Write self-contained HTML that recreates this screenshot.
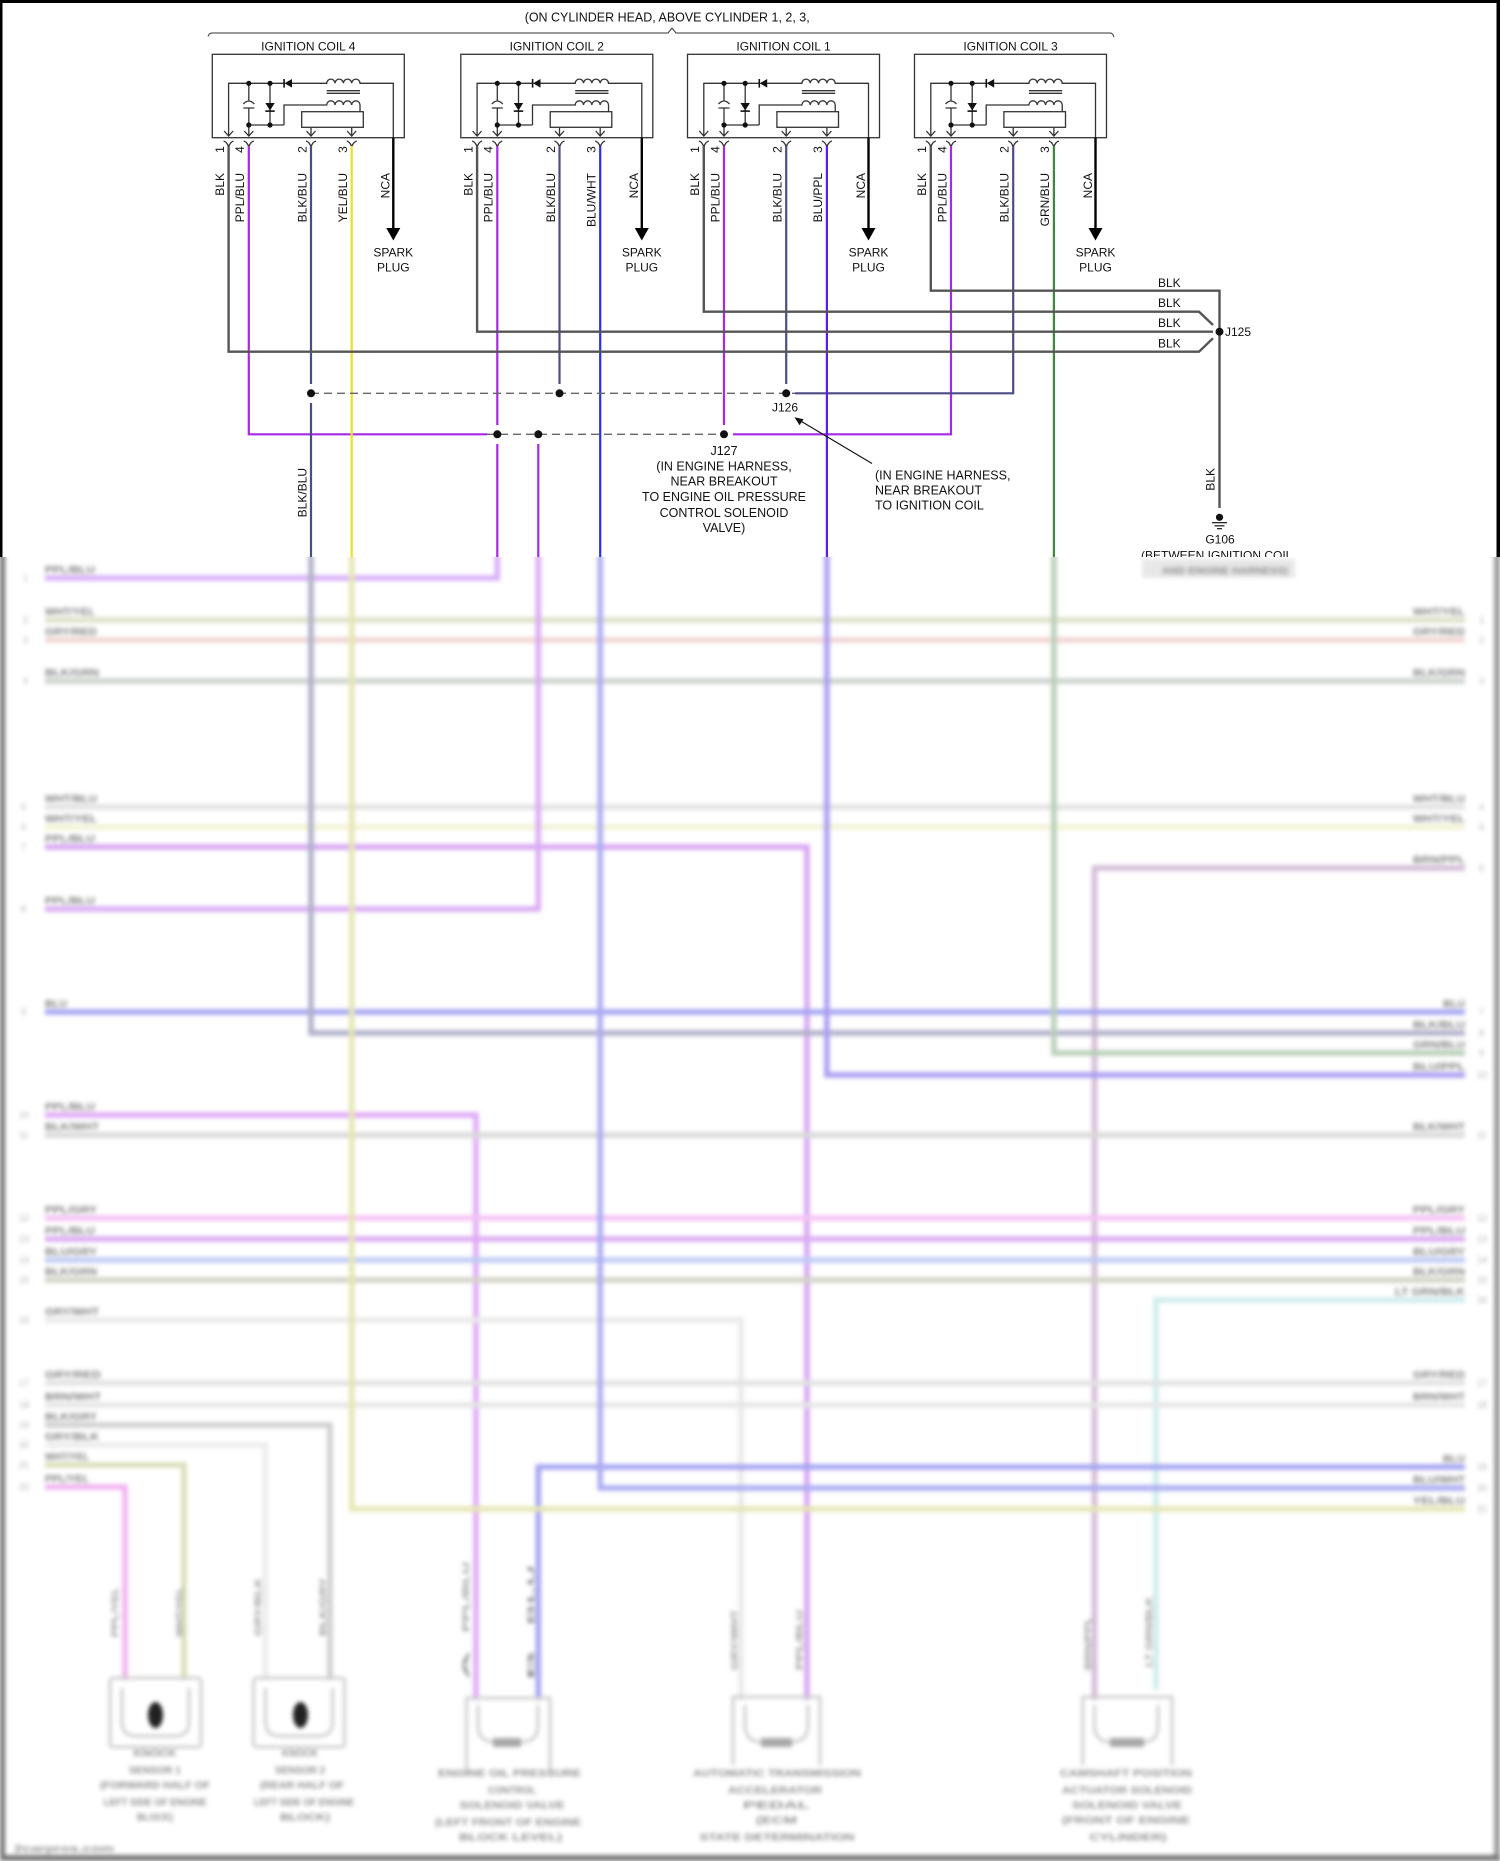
<!DOCTYPE html>
<html><head><meta charset="utf-8">
<style>
html,body{margin:0;padding:0;background:#fff;}
#root{position:relative;width:1500px;height:1861px;overflow:hidden;background:#fff;}
#bl{position:absolute;left:0;top:557px;width:1500px;height:1304px;overflow:hidden;background:#fff;}
#blsvg{position:absolute;left:0;top:-557px;filter:blur(2.2px);}
.lb{font-family:"Liberation Sans",Arial,sans-serif;font-weight:bold;font-size:10.5px;fill:#7c7c7c;}
.rb{font-family:"Liberation Sans",Arial,sans-serif;font-weight:bold;font-size:10.5px;fill:#7c7c7c;}
.pn{font-family:"Liberation Sans",Arial,sans-serif;font-size:9px;fill:#b0b0b0;}
.ct{font-family:"Liberation Sans",Arial,sans-serif;font-weight:bold;font-size:10.5px;fill:#8e8e8e;}
.lr{font-family:"Liberation Sans",Arial,sans-serif;font-weight:bold;font-size:9.5px;fill:#959595;}
</style></head>
<body><div id="root">

<svg width="1500" height="1861" style="position:absolute;left:0;top:0" xmlns="http://www.w3.org/2000/svg">
<rect x="0" y="0" width="1500" height="3" fill="#000"/>
<rect x="0" y="0" width="2.5" height="560" fill="#000"/>
<rect x="1496.5" y="0" width="3.5" height="560" fill="#000"/>

<path d="M208,36.5 Q209,33 212,33 L668,33 L672,28.2 L676,33 L1110,33 Q1113,33 1114,37" fill="none" stroke="#333" stroke-width="1"/>

<g font-family="'Liberation Sans', Arial, sans-serif" font-size="12" fill="#111">
<text x="524.7" y="21.3" font-size="12.5" textLength="285" lengthAdjust="spacingAndGlyphs">(ON CYLINDER HEAD, ABOVE CYLINDER 1, 2, 3,</text>
<text x="308.3" y="50.3" text-anchor="middle">IGNITION COIL 4</text>
<text x="556.8" y="50.3" text-anchor="middle">IGNITION COIL 2</text>
<text x="783.5" y="50.3" text-anchor="middle">IGNITION COIL 1</text>
<text x="1010.5" y="50.3" text-anchor="middle">IGNITION COIL 3</text>
</g>

<g transform="translate(212.3,0)">
 <g fill="none" stroke="#333" stroke-width="1.3">
  <rect x="0" y="54.3" width="192" height="83.4"/>
  <path d="M16.3,136 V83.3 H71.7 M79.7,83.3 H114.4 a4.16,4.16 0 0 1 8.33,0 a4.16,4.16 0 0 1 8.33,0 a4.16,4.16 0 0 1 8.33,0 a4.16,4.16 0 0 1 8.33,0 H181 V137.7"/>
  <path d="M114.4,90.7 H147.7 M114.4,93.3 H147.7"/>
  <path d="M71.7,125 V105 H114.4 a4.16,4.16 0 0 1 8.33,0 a4.16,4.16 0 0 1 8.33,0 a4.16,4.16 0 0 1 8.33,0 a4.16,4.16 0 0 1 8.33,0 V111.7"/>
  <path d="M36.5,125 H71.7"/>
  <rect x="89.4" y="111.7" width="61.6" height="15.6"/>
  <path d="M36.5,83.3 V101 M31,104 Q36.5,98 42,104 M31,108 H42 M36.5,108 V136"/>
  <path d="M57.7,83.3 V125"/>
  <path d="M98.7,127.3 V136 M139.4,127.3 V136"/>
  <path d="M11.8,131 L16.3,136 L20.8,131 M32,131 L36.5,136 L41,131 M94.2,131 L98.7,136 L103.2,131 M134.9,131 L139.4,136 L143.9,131"/>
  <path d="M11.3,141 Q14.8,142 16.3,147 Q17.8,142 21.3,141 M31.5,141 Q35,142 36.5,147 Q38,142 41.5,141 M93.7,141 Q97.2,142 98.7,147 Q100.2,142 103.7,141 M134.4,141 Q137.9,142 139.4,147 Q140.9,142 144.4,141"/>
 </g>
 <g fill="#111">
  <path d="M79.7,79 L79.7,87.6 L72.2,83.3 Z"/><rect x="71" y="79" width="1.6" height="8.6"/>
  <path d="M53,103 L62.4,103 L57.7,110.5 Z"/><rect x="53" y="110.3" width="9.4" height="1.6"/>
  <circle cx="36.5" cy="83.3" r="2.6"/><circle cx="57.7" cy="83.3" r="2.6"/>
  <circle cx="36.5" cy="125" r="2.6"/><circle cx="57.7" cy="125" r="2.6"/>
 </g>
 <path d="M181,137.7 V229" stroke="#000" stroke-width="2.4" fill="none"/>
 <path d="M174,228 L188,228 L181,240.5 Z" fill="#000"/>
</g>

<g transform="translate(460.8,0)">
 <g fill="none" stroke="#333" stroke-width="1.3">
  <rect x="0" y="54.3" width="192" height="83.4"/>
  <path d="M16.3,136 V83.3 H71.7 M79.7,83.3 H114.4 a4.16,4.16 0 0 1 8.33,0 a4.16,4.16 0 0 1 8.33,0 a4.16,4.16 0 0 1 8.33,0 a4.16,4.16 0 0 1 8.33,0 H181 V137.7"/>
  <path d="M114.4,90.7 H147.7 M114.4,93.3 H147.7"/>
  <path d="M71.7,125 V105 H114.4 a4.16,4.16 0 0 1 8.33,0 a4.16,4.16 0 0 1 8.33,0 a4.16,4.16 0 0 1 8.33,0 a4.16,4.16 0 0 1 8.33,0 V111.7"/>
  <path d="M36.5,125 H71.7"/>
  <rect x="89.4" y="111.7" width="61.6" height="15.6"/>
  <path d="M36.5,83.3 V101 M31,104 Q36.5,98 42,104 M31,108 H42 M36.5,108 V136"/>
  <path d="M57.7,83.3 V125"/>
  <path d="M98.7,127.3 V136 M139.4,127.3 V136"/>
  <path d="M11.8,131 L16.3,136 L20.8,131 M32,131 L36.5,136 L41,131 M94.2,131 L98.7,136 L103.2,131 M134.9,131 L139.4,136 L143.9,131"/>
  <path d="M11.3,141 Q14.8,142 16.3,147 Q17.8,142 21.3,141 M31.5,141 Q35,142 36.5,147 Q38,142 41.5,141 M93.7,141 Q97.2,142 98.7,147 Q100.2,142 103.7,141 M134.4,141 Q137.9,142 139.4,147 Q140.9,142 144.4,141"/>
 </g>
 <g fill="#111">
  <path d="M79.7,79 L79.7,87.6 L72.2,83.3 Z"/><rect x="71" y="79" width="1.6" height="8.6"/>
  <path d="M53,103 L62.4,103 L57.7,110.5 Z"/><rect x="53" y="110.3" width="9.4" height="1.6"/>
  <circle cx="36.5" cy="83.3" r="2.6"/><circle cx="57.7" cy="83.3" r="2.6"/>
  <circle cx="36.5" cy="125" r="2.6"/><circle cx="57.7" cy="125" r="2.6"/>
 </g>
 <path d="M181,137.7 V229" stroke="#000" stroke-width="2.4" fill="none"/>
 <path d="M174,228 L188,228 L181,240.5 Z" fill="#000"/>
</g>

<g transform="translate(687.5,0)">
 <g fill="none" stroke="#333" stroke-width="1.3">
  <rect x="0" y="54.3" width="192" height="83.4"/>
  <path d="M16.3,136 V83.3 H71.7 M79.7,83.3 H114.4 a4.16,4.16 0 0 1 8.33,0 a4.16,4.16 0 0 1 8.33,0 a4.16,4.16 0 0 1 8.33,0 a4.16,4.16 0 0 1 8.33,0 H181 V137.7"/>
  <path d="M114.4,90.7 H147.7 M114.4,93.3 H147.7"/>
  <path d="M71.7,125 V105 H114.4 a4.16,4.16 0 0 1 8.33,0 a4.16,4.16 0 0 1 8.33,0 a4.16,4.16 0 0 1 8.33,0 a4.16,4.16 0 0 1 8.33,0 V111.7"/>
  <path d="M36.5,125 H71.7"/>
  <rect x="89.4" y="111.7" width="61.6" height="15.6"/>
  <path d="M36.5,83.3 V101 M31,104 Q36.5,98 42,104 M31,108 H42 M36.5,108 V136"/>
  <path d="M57.7,83.3 V125"/>
  <path d="M98.7,127.3 V136 M139.4,127.3 V136"/>
  <path d="M11.8,131 L16.3,136 L20.8,131 M32,131 L36.5,136 L41,131 M94.2,131 L98.7,136 L103.2,131 M134.9,131 L139.4,136 L143.9,131"/>
  <path d="M11.3,141 Q14.8,142 16.3,147 Q17.8,142 21.3,141 M31.5,141 Q35,142 36.5,147 Q38,142 41.5,141 M93.7,141 Q97.2,142 98.7,147 Q100.2,142 103.7,141 M134.4,141 Q137.9,142 139.4,147 Q140.9,142 144.4,141"/>
 </g>
 <g fill="#111">
  <path d="M79.7,79 L79.7,87.6 L72.2,83.3 Z"/><rect x="71" y="79" width="1.6" height="8.6"/>
  <path d="M53,103 L62.4,103 L57.7,110.5 Z"/><rect x="53" y="110.3" width="9.4" height="1.6"/>
  <circle cx="36.5" cy="83.3" r="2.6"/><circle cx="57.7" cy="83.3" r="2.6"/>
  <circle cx="36.5" cy="125" r="2.6"/><circle cx="57.7" cy="125" r="2.6"/>
 </g>
 <path d="M181,137.7 V229" stroke="#000" stroke-width="2.4" fill="none"/>
 <path d="M174,228 L188,228 L181,240.5 Z" fill="#000"/>
</g>

<g transform="translate(914.5,0)">
 <g fill="none" stroke="#333" stroke-width="1.3">
  <rect x="0" y="54.3" width="192" height="83.4"/>
  <path d="M16.3,136 V83.3 H71.7 M79.7,83.3 H114.4 a4.16,4.16 0 0 1 8.33,0 a4.16,4.16 0 0 1 8.33,0 a4.16,4.16 0 0 1 8.33,0 a4.16,4.16 0 0 1 8.33,0 H181 V137.7"/>
  <path d="M114.4,90.7 H147.7 M114.4,93.3 H147.7"/>
  <path d="M71.7,125 V105 H114.4 a4.16,4.16 0 0 1 8.33,0 a4.16,4.16 0 0 1 8.33,0 a4.16,4.16 0 0 1 8.33,0 a4.16,4.16 0 0 1 8.33,0 V111.7"/>
  <path d="M36.5,125 H71.7"/>
  <rect x="89.4" y="111.7" width="61.6" height="15.6"/>
  <path d="M36.5,83.3 V101 M31,104 Q36.5,98 42,104 M31,108 H42 M36.5,108 V136"/>
  <path d="M57.7,83.3 V125"/>
  <path d="M98.7,127.3 V136 M139.4,127.3 V136"/>
  <path d="M11.8,131 L16.3,136 L20.8,131 M32,131 L36.5,136 L41,131 M94.2,131 L98.7,136 L103.2,131 M134.9,131 L139.4,136 L143.9,131"/>
  <path d="M11.3,141 Q14.8,142 16.3,147 Q17.8,142 21.3,141 M31.5,141 Q35,142 36.5,147 Q38,142 41.5,141 M93.7,141 Q97.2,142 98.7,147 Q100.2,142 103.7,141 M134.4,141 Q137.9,142 139.4,147 Q140.9,142 144.4,141"/>
 </g>
 <g fill="#111">
  <path d="M79.7,79 L79.7,87.6 L72.2,83.3 Z"/><rect x="71" y="79" width="1.6" height="8.6"/>
  <path d="M53,103 L62.4,103 L57.7,110.5 Z"/><rect x="53" y="110.3" width="9.4" height="1.6"/>
  <circle cx="36.5" cy="83.3" r="2.6"/><circle cx="57.7" cy="83.3" r="2.6"/>
  <circle cx="36.5" cy="125" r="2.6"/><circle cx="57.7" cy="125" r="2.6"/>
 </g>
 <path d="M181,137.7 V229" stroke="#000" stroke-width="2.4" fill="none"/>
 <path d="M174,228 L188,228 L181,240.5 Z" fill="#000"/>
</g>

<g fill="none" stroke-width="2.2">
 <path d="M248.8,146 V434.3 H487" stroke="#a52ae6"/>
 <path d="M497.3,146 V425 M497.3,444 V562" stroke="#a52ae6"/>
 <path d="M538.3,444 V562" stroke="#a52ae6"/>
 <path d="M724,146 V425" stroke="#a52ae6"/>
 <path d="M951,146 V434.3 H733" stroke="#a52ae6"/>
 <path d="M311,146 V384 M311,403 V562" stroke="#4c4c88"/>
 <path d="M559.5,146 V384" stroke="#4c4c88"/>
 <path d="M786.2,146 V384" stroke="#4c4c88"/>
 <path d="M1013.2,146 V393.3 H795" stroke="#4c4c88"/>
 <path d="M351.7,146 V562" stroke="#ece21a"/>
 <path d="M600.2,146 V562" stroke="#2e2ee8"/>
 <path d="M826.9,146 V562" stroke="#5a1cf0"/>
 <path d="M1053.9,146 V562" stroke="#3a8a3a"/>
 <g stroke="#555" stroke-width="2.4">
  <path d="M228.6,146 V351.7 H1199 L1213,338.3"/>
  <path d="M477.1,146 V331.7 H1213"/>
  <path d="M703.8,146 V311.7 H1199 L1213,325"/>
  <path d="M930.8,146 V290.7 H1219.5 V508"/>
 </g>
 <path d="M311,393.3 H795" stroke="#666" stroke-width="1.3" stroke-dasharray="8 5"/>
 <path d="M487,434.3 H724" stroke="#666" stroke-width="1.3" stroke-dasharray="8 5"/>
 <path d="M872,463.5 L799,420" stroke="#111" stroke-width="1.1"/>
</g>
<path d="M794.5,417.3 L803.5,419.2 L799.6,425.2 Z" fill="#111"/>

<g fill="#111">
 <circle cx="311" cy="393.3" r="4"/>
 <circle cx="559.5" cy="393.3" r="4"/>
 <circle cx="786.2" cy="393.3" r="4"/>
 <circle cx="497.3" cy="434.3" r="4"/>
 <circle cx="538.3" cy="434.3" r="4"/>
 <circle cx="724" cy="434.3" r="4"/>
 <circle cx="1219.5" cy="331.7" r="4"/>
 <circle cx="1219.5" cy="517.3" r="3.6"/>
</g>
<g stroke="#111" stroke-width="1.2">
 <path d="M1212,522.7 H1227"/>
 <path d="M1214.5,525.8 H1224.5"/>
 <path d="M1217,528.7 H1222"/>
</g>

<g font-family="'Liberation Sans', Arial, sans-serif" font-size="12" fill="#111">
 <text transform="translate(223.9,173) rotate(-90)" text-anchor="end">BLK</text>
 <text transform="translate(244.1,173) rotate(-90)" text-anchor="end">PPL/BLU</text>
 <text transform="translate(306.3,173) rotate(-90)" text-anchor="end">BLK/BLU</text>
 <text transform="translate(347,173) rotate(-90)" text-anchor="end">YEL/BLU</text>
 <text transform="translate(389.6,173) rotate(-90)" text-anchor="end">NCA</text>
 <text transform="translate(472.4,173) rotate(-90)" text-anchor="end">BLK</text>
 <text transform="translate(492.6,173) rotate(-90)" text-anchor="end">PPL/BLU</text>
 <text transform="translate(554.8,173) rotate(-90)" text-anchor="end">BLK/BLU</text>
 <text transform="translate(595.5,173) rotate(-90)" text-anchor="end">BLU/WHT</text>
 <text transform="translate(638.1,173) rotate(-90)" text-anchor="end">NCA</text>
 <text transform="translate(699.1,173) rotate(-90)" text-anchor="end">BLK</text>
 <text transform="translate(719.3,173) rotate(-90)" text-anchor="end">PPL/BLU</text>
 <text transform="translate(781.5,173) rotate(-90)" text-anchor="end">BLK/BLU</text>
 <text transform="translate(822.2,173) rotate(-90)" text-anchor="end">BLU/PPL</text>
 <text transform="translate(864.8,173) rotate(-90)" text-anchor="end">NCA</text>
 <text transform="translate(926.1,173) rotate(-90)" text-anchor="end">BLK</text>
 <text transform="translate(946.3,173) rotate(-90)" text-anchor="end">PPL/BLU</text>
 <text transform="translate(1008.5,173) rotate(-90)" text-anchor="end">BLK/BLU</text>
 <text transform="translate(1049.2,173) rotate(-90)" text-anchor="end">GRN/BLU</text>
 <text transform="translate(1091.8,173) rotate(-90)" text-anchor="end">NCA</text>

 <text transform="translate(223.9,149.5) rotate(-90)" text-anchor="middle">1</text>
 <text transform="translate(244.1,149.5) rotate(-90)" text-anchor="middle">4</text>
 <text transform="translate(306.3,149.5) rotate(-90)" text-anchor="middle">2</text>
 <text transform="translate(347,149.5) rotate(-90)" text-anchor="middle">3</text>
 <text transform="translate(472.4,149.5) rotate(-90)" text-anchor="middle">1</text>
 <text transform="translate(492.6,149.5) rotate(-90)" text-anchor="middle">4</text>
 <text transform="translate(554.8,149.5) rotate(-90)" text-anchor="middle">2</text>
 <text transform="translate(595.5,149.5) rotate(-90)" text-anchor="middle">3</text>
 <text transform="translate(699.1,149.5) rotate(-90)" text-anchor="middle">1</text>
 <text transform="translate(719.3,149.5) rotate(-90)" text-anchor="middle">4</text>
 <text transform="translate(781.5,149.5) rotate(-90)" text-anchor="middle">2</text>
 <text transform="translate(822.2,149.5) rotate(-90)" text-anchor="middle">3</text>
 <text transform="translate(926.1,149.5) rotate(-90)" text-anchor="middle">1</text>
 <text transform="translate(946.3,149.5) rotate(-90)" text-anchor="middle">4</text>
 <text transform="translate(1008.5,149.5) rotate(-90)" text-anchor="middle">2</text>
 <text transform="translate(1049.2,149.5) rotate(-90)" text-anchor="middle">3</text>

 <text x="393.3" y="256.3" text-anchor="middle">SPARK</text>
 <text x="393.3" y="271.3" text-anchor="middle">PLUG</text>
 <text x="641.8" y="256.3" text-anchor="middle">SPARK</text>
 <text x="641.8" y="271.3" text-anchor="middle">PLUG</text>
 <text x="868.5" y="256.3" text-anchor="middle">SPARK</text>
 <text x="868.5" y="271.3" text-anchor="middle">PLUG</text>
 <text x="1095.5" y="256.3" text-anchor="middle">SPARK</text>
 <text x="1095.5" y="271.3" text-anchor="middle">PLUG</text>

 <text x="1158" y="287">BLK</text>
 <text x="1158" y="307">BLK</text>
 <text x="1158" y="327">BLK</text>
 <text x="1158" y="347.6">BLK</text>
 <text x="1225" y="336">J125</text>

 <text x="785" y="411.6" text-anchor="middle">J126</text>

 <g font-size="12.5">
 <text x="724" y="455" text-anchor="middle">J127</text>
 <text x="724" y="470.3" text-anchor="middle">(IN ENGINE HARNESS,</text>
 <text x="724" y="485.3" text-anchor="middle">NEAR BREAKOUT</text>
 <text x="724" y="501" text-anchor="middle">TO ENGINE OIL PRESSURE</text>
 <text x="724" y="517" text-anchor="middle">CONTROL SOLENOID</text>
 <text x="724" y="532" text-anchor="middle">VALVE)</text>

 <text x="875" y="479.3">(IN ENGINE HARNESS,</text>
 <text x="875" y="494.3">NEAR BREAKOUT</text>
 <text x="875" y="509.7">TO IGNITION COIL</text>
 </g>

 <text transform="translate(306.3,468) rotate(-90)" text-anchor="end">BLK/BLU</text>
 <text transform="translate(1214.3,468) rotate(-90)" text-anchor="end">BLK</text>

 <text x="1220" y="543.6" text-anchor="middle">G106</text>
 <text x="1216.7" y="559.5" text-anchor="middle">(BETWEEN IGNITION COIL</text>
</g>
</svg>

<div id="bl">
<svg id="blsvg" width="1500" height="1861" xmlns="http://www.w3.org/2000/svg">
<rect x="0" y="540" width="5" height="1330" fill="#707070"/>
<rect x="1494" y="540" width="6" height="1330" fill="#9a9a9a"/>
<rect x="0" y="1855" width="1500" height="6" fill="#777"/>

<rect x="1142" y="559" width="153" height="19" fill="#e8e8e8"/>
<text class="ct" x="1162" y="574" textLength="126" lengthAdjust="spacingAndGlyphs">AND ENGINE HARNESS)</text>

<g fill="none" stroke-width="5.5" style="mix-blend-mode:multiply">
 <path d="M45,578 H497.3 V540" stroke="#d7aff7"/>
 <path d="M45,620 H1465" stroke="#dde1c8"/>
 <path d="M45,640 H1465" stroke="#f2d4d4"/>
 <path d="M45,681 H1465" stroke="#ccd3cc"/>
 <path d="M45,807 H1465" stroke="#e2e2e2"/>
 <path d="M45,827 H1465" stroke="#f3f3d6"/>
 <path d="M45,847 H807 V1700" stroke="#d7a5f3"/>
 <path d="M1465,868 H1094.5 V1700" stroke="#d3bcd6"/>
 <path d="M45,909 H538.3 V540" stroke="#daacf4"/>
 <path d="M45,1012 H1465" stroke="#a5a5f2"/>
 <path d="M311,540 V1033 H1465" stroke="#b0b0c9"/>
 <path d="M1053.9,540 V1053 H1465" stroke="#b8cfb8"/>
 <path d="M826.9,540 V1075 H1465" stroke="#aa9ef2"/>
 <path d="M45,1115 H476 V1700" stroke="#e0aaf6"/>
 <path d="M45,1135 H1465" stroke="#d9d9d9"/>
 <path d="M45,1218 H1465" stroke="#f5c2f5"/>
 <path d="M45,1239 H1465" stroke="#dcaaf2"/>
 <path d="M45,1260 H1465" stroke="#bfcbf4"/>
 <path d="M45,1280 H1465" stroke="#d3d3c8"/>
 <path d="M1465,1300 H1156 V1690" stroke="#ceecec"/>
 <path d="M45,1320 H741 V1700" stroke="#eaeaea"/>
 <path d="M45,1383 H1465" stroke="#e2e2e2"/>
 <path d="M45,1405 H1465" stroke="#e6e6e6"/>
 <path d="M45,1425 H330 V1680" stroke="#cfcfcf"/>
 <path d="M45,1445 H265.5 V1680" stroke="#ececec"/>
 <path d="M45,1465 H184 V1680" stroke="#dadeb8"/>
 <path d="M45,1487 H125 V1680" stroke="#f1b2f1"/>
 <path d="M1465,1467 H538.3 V1700" stroke="#a4a4f2"/>
 <path d="M600.2,540 V1488 H1465" stroke="#acacf2"/>
 <path d="M351.7,540 V1509 H1465" stroke="#e6e6b4"/>
</g>

<text class="lb" x="45" y="573" textLength="50" lengthAdjust="spacingAndGlyphs">PPL/BLU</text>
<text class="lb" x="45" y="615" textLength="50" lengthAdjust="spacingAndGlyphs">WHT/YEL</text>
<text class="lb" x="45" y="635" textLength="52" lengthAdjust="spacingAndGlyphs">GRY/RED</text>
<text class="lb" x="45" y="676" textLength="54" lengthAdjust="spacingAndGlyphs">BLK/GRN</text>
<text class="lb" x="45" y="802" textLength="52" lengthAdjust="spacingAndGlyphs">WHT/BLU</text>
<text class="lb" x="45" y="822" textLength="52" lengthAdjust="spacingAndGlyphs">WHT/YEL</text>
<text class="lb" x="45" y="842" textLength="50" lengthAdjust="spacingAndGlyphs">PPL/BLU</text>
<text class="lb" x="45" y="904" textLength="50" lengthAdjust="spacingAndGlyphs">PPL/BLU</text>
<text class="lb" x="45" y="1007" textLength="22" lengthAdjust="spacingAndGlyphs">BLU</text>
<text class="lb" x="45" y="1110" textLength="50" lengthAdjust="spacingAndGlyphs">PPL/BLU</text>
<text class="lb" x="45" y="1130" textLength="54" lengthAdjust="spacingAndGlyphs">BLK/WHT</text>
<text class="lb" x="45" y="1213" textLength="52" lengthAdjust="spacingAndGlyphs">PPL/GRY</text>
<text class="lb" x="45" y="1234" textLength="50" lengthAdjust="spacingAndGlyphs">PPL/BLU</text>
<text class="lb" x="45" y="1255" textLength="52" lengthAdjust="spacingAndGlyphs">BLU/GRY</text>
<text class="lb" x="45" y="1275" textLength="52" lengthAdjust="spacingAndGlyphs">BLK/GRN</text>
<text class="lb" x="45" y="1315" textLength="54" lengthAdjust="spacingAndGlyphs">GRY/WHT</text>
<text class="lb" x="45" y="1378" textLength="56" lengthAdjust="spacingAndGlyphs">GRY/RED</text>
<text class="lb" x="45" y="1400" textLength="56" lengthAdjust="spacingAndGlyphs">BRN/WHT</text>
<text class="lb" x="45" y="1420" textLength="52" lengthAdjust="spacingAndGlyphs">BLK/GRY</text>
<text class="lb" x="45" y="1440" textLength="54" lengthAdjust="spacingAndGlyphs">GRY/BLK</text>
<text class="lb" x="45" y="1460" textLength="44" lengthAdjust="spacingAndGlyphs">WHT/YEL</text>
<text class="lb" x="45" y="1482" textLength="44" lengthAdjust="spacingAndGlyphs">PPL/YEL</text>

<text class="rb" x="1413" y="615" textLength="52" lengthAdjust="spacingAndGlyphs">WHT/YEL</text>
<text class="rb" x="1413" y="635" textLength="52" lengthAdjust="spacingAndGlyphs">GRY/RED</text>
<text class="rb" x="1413" y="676" textLength="52" lengthAdjust="spacingAndGlyphs">BLK/GRN</text>
<text class="rb" x="1413" y="802" textLength="52" lengthAdjust="spacingAndGlyphs">WHT/BLU</text>
<text class="rb" x="1413" y="822" textLength="52" lengthAdjust="spacingAndGlyphs">WHT/YEL</text>
<text class="rb" x="1413" y="863" textLength="52" lengthAdjust="spacingAndGlyphs">BRN/PPL</text>
<text class="rb" x="1443" y="1007" textLength="22" lengthAdjust="spacingAndGlyphs">BLU</text>
<text class="rb" x="1413" y="1028" textLength="52" lengthAdjust="spacingAndGlyphs">BLK/BLU</text>
<text class="rb" x="1413" y="1048" textLength="52" lengthAdjust="spacingAndGlyphs">GRN/BLU</text>
<text class="rb" x="1413" y="1070" textLength="52" lengthAdjust="spacingAndGlyphs">BLU/PPL</text>
<text class="rb" x="1413" y="1130" textLength="52" lengthAdjust="spacingAndGlyphs">BLK/WHT</text>
<text class="rb" x="1413" y="1213" textLength="52" lengthAdjust="spacingAndGlyphs">PPL/GRY</text>
<text class="rb" x="1413" y="1234" textLength="52" lengthAdjust="spacingAndGlyphs">PPL/BLU</text>
<text class="rb" x="1413" y="1255" textLength="52" lengthAdjust="spacingAndGlyphs">BLU/GRY</text>
<text class="rb" x="1413" y="1275" textLength="52" lengthAdjust="spacingAndGlyphs">BLK/GRN</text>
<text class="rb" x="1395" y="1295" textLength="70" lengthAdjust="spacingAndGlyphs">LT GRN/BLK</text>
<text class="rb" x="1413" y="1378" textLength="52" lengthAdjust="spacingAndGlyphs">GRY/RED</text>
<text class="rb" x="1413" y="1400" textLength="52" lengthAdjust="spacingAndGlyphs">BRN/WHT</text>
<text class="rb" x="1443" y="1462" textLength="22" lengthAdjust="spacingAndGlyphs">BLU</text>
<text class="rb" x="1413" y="1483" textLength="52" lengthAdjust="spacingAndGlyphs">BLU/WHT</text>
<text class="rb" x="1413" y="1504" textLength="52" lengthAdjust="spacingAndGlyphs">YEL/BLU</text>

<g>
<text class="pn" x="23" y="581">1</text><text class="pn" x="23" y="623">2</text><text class="pn" x="23" y="643">3</text>
<text class="pn" x="23" y="684">4</text><text class="pn" x="21" y="810">5</text><text class="pn" x="21" y="830">6</text>
<text class="pn" x="21" y="850">7</text><text class="pn" x="21" y="912">8</text><text class="pn" x="21" y="1015">9</text>
<text class="pn" x="19" y="1118">10</text><text class="pn" x="19" y="1138">11</text><text class="pn" x="19" y="1221">12</text>
<text class="pn" x="19" y="1242">13</text><text class="pn" x="19" y="1263">14</text><text class="pn" x="19" y="1283">15</text>
<text class="pn" x="19" y="1323">16</text><text class="pn" x="19" y="1386">17</text><text class="pn" x="19" y="1408">18</text>
<text class="pn" x="19" y="1428">19</text><text class="pn" x="19" y="1448">20</text><text class="pn" x="19" y="1468">21</text>
<text class="pn" x="19" y="1490">22</text>
<text class="pn" x="1479" y="623">1</text><text class="pn" x="1479" y="643">2</text><text class="pn" x="1479" y="684">3</text>
<text class="pn" x="1479" y="810">4</text><text class="pn" x="1479" y="830">5</text><text class="pn" x="1479" y="871">6</text>
<text class="pn" x="1479" y="1015">7</text><text class="pn" x="1479" y="1036">8</text><text class="pn" x="1479" y="1056">9</text>
<text class="pn" x="1477" y="1078">10</text><text class="pn" x="1477" y="1138">11</text><text class="pn" x="1477" y="1221">12</text>
<text class="pn" x="1477" y="1242">13</text><text class="pn" x="1477" y="1263">14</text><text class="pn" x="1477" y="1283">15</text>
<text class="pn" x="1477" y="1303">16</text><text class="pn" x="1477" y="1386">17</text><text class="pn" x="1477" y="1408">18</text>
<text class="pn" x="1477" y="1470">19</text><text class="pn" x="1477" y="1491">20</text><text class="pn" x="1477" y="1512">21</text>
</g>

<g fill="none" stroke="#cbcbcb" stroke-width="2.8">
 <rect x="110" y="1678" width="91" height="69" rx="3"/>
 <path d="M122,1688 V1722 Q122,1736 136,1736 H175 Q189,1736 189,1722 V1688"/>
 <rect x="253.5" y="1678" width="91" height="69" rx="3"/>
 <path d="M265.5,1688 V1722 Q265.5,1736 279.5,1736 H318.5 Q332.5,1736 332.5,1722 V1688"/>
 <path d="M466.5,1773 V1698 H550 V1773"/>
 <path d="M478,1705 V1725 Q478,1742 495,1742 H521 Q538,1742 538,1725 V1705"/>
 <path d="M733,1765 V1697 H820 V1765"/>
 <path d="M745,1705 V1725 Q745,1742 762,1742 H791 Q808,1742 808,1725 V1705"/>
 <path d="M1082.6,1765 V1697 H1172 V1765"/>
 <path d="M1094.5,1705 V1725 Q1094.5,1742 1111,1742 H1143 Q1158,1742 1158,1725 V1705"/>
</g>
<ellipse cx="155.5" cy="1715" rx="7.5" ry="13" fill="#222"/>
<ellipse cx="300.5" cy="1715" rx="7.5" ry="13" fill="#222"/>
<rect x="493" y="1738" width="28" height="9" fill="#a8a8a8"/>
<rect x="761" y="1738" width="31" height="9" fill="#a8a8a8"/>
<rect x="1110" y="1738" width="34" height="9" fill="#a8a8a8"/>

<text class="lr" transform="translate(118,1587) rotate(-90)" text-anchor="end" textLength="50" lengthAdjust="spacingAndGlyphs">PPL/YEL</text>
<text class="lr" transform="translate(182.5,1587) rotate(-90)" text-anchor="end" textLength="50" lengthAdjust="spacingAndGlyphs">WHT/YEL</text>
<text class="lr" transform="translate(261,1578) rotate(-90)" text-anchor="end" textLength="58" lengthAdjust="spacingAndGlyphs">GRY/BLK</text>
<text class="lr" transform="translate(326,1578) rotate(-90)" text-anchor="end" textLength="58" lengthAdjust="spacingAndGlyphs">BLK/GRY</text>
<text class="lr" transform="translate(469,1562) rotate(-90)" text-anchor="end" textLength="70" lengthAdjust="spacingAndGlyphs">PPL/BLU</text>
<text class="lr" transform="translate(534,1565) rotate(-90)" text-anchor="end" textLength="60" lengthAdjust="spacingAndGlyphs">BLU</text>
<text class="lr" transform="translate(469,1650) rotate(-90)" text-anchor="end" textLength="30" lengthAdjust="spacingAndGlyphs">A</text>
<text class="lr" transform="translate(534,1650) rotate(-90)" text-anchor="end" textLength="30" lengthAdjust="spacingAndGlyphs">B</text>
<text class="lr" transform="translate(737.7,1610) rotate(-90)" text-anchor="end" textLength="60" lengthAdjust="spacingAndGlyphs">GRY/WHT</text>
<text class="lr" transform="translate(802.5,1610) rotate(-90)" text-anchor="end" textLength="60" lengthAdjust="spacingAndGlyphs">PPL/BLU</text>
<text class="lr" transform="translate(1091,1617) rotate(-90)" text-anchor="end" textLength="53" lengthAdjust="spacingAndGlyphs">BRN/PPL</text>
<text class="lr" transform="translate(1152,1597) rotate(-90)" text-anchor="end" textLength="70" lengthAdjust="spacingAndGlyphs">LT GRN/BLK</text>

<g text-anchor="middle">
<text class="ct" x="155" y="1756.5" textLength="43" lengthAdjust="spacingAndGlyphs">KNOCK</text>
<text class="ct" x="155" y="1773.5" textLength="52" lengthAdjust="spacingAndGlyphs">SENSOR 1</text>
<text class="ct" x="155" y="1788.5" textLength="110" lengthAdjust="spacingAndGlyphs">(FORWARD HALF OF</text>
<text class="ct" x="155" y="1805.5" textLength="103" lengthAdjust="spacingAndGlyphs">LEFT SIDE OF ENGINE</text>
<text class="ct" x="155" y="1820.5" textLength="36" lengthAdjust="spacingAndGlyphs">BLOCK)</text>

<text class="ct" x="300" y="1756.5" textLength="36" lengthAdjust="spacingAndGlyphs">KNOCK</text>
<text class="ct" x="300" y="1773.5" textLength="50" lengthAdjust="spacingAndGlyphs">SENSOR 2</text>
<text class="ct" x="302" y="1788.5" textLength="84" lengthAdjust="spacingAndGlyphs">(REAR HALF OF</text>
<text class="ct" x="304" y="1805.5" textLength="100" lengthAdjust="spacingAndGlyphs">LEFT SIDE OF ENGINE</text>
<text class="ct" x="305" y="1820.5" textLength="50" lengthAdjust="spacingAndGlyphs">BLOCK)</text>

<text class="ct" x="509.5" y="1776.5" textLength="143" lengthAdjust="spacingAndGlyphs">ENGINE OIL PRESSURE</text>
<text class="ct" x="512" y="1793.5" textLength="48" lengthAdjust="spacingAndGlyphs">CONTROL</text>
<text class="ct" x="512" y="1808.5" textLength="105" lengthAdjust="spacingAndGlyphs">SOLENOID VALVE</text>
<text class="ct" x="508" y="1825.5" textLength="146" lengthAdjust="spacingAndGlyphs">(LEFT FRONT OF ENGINE</text>
<text class="ct" x="510.5" y="1840.5" textLength="103" lengthAdjust="spacingAndGlyphs">BLOCK LEVEL)</text>

<text class="ct" x="777" y="1776.5" textLength="168" lengthAdjust="spacingAndGlyphs">AUTOMATIC TRANSMISSION</text>
<text class="ct" x="775" y="1793.5" textLength="94" lengthAdjust="spacingAndGlyphs">ACCELERATOR</text>
<text class="ct" x="776.5" y="1808.5" textLength="67" lengthAdjust="spacingAndGlyphs">PEDAL</text>
<text class="ct" x="776.5" y="1823.5" textLength="41" lengthAdjust="spacingAndGlyphs">(ECM</text>
<text class="ct" x="777" y="1840.5" textLength="155" lengthAdjust="spacingAndGlyphs">STATE DETERMINATION</text>

<text class="ct" x="1126" y="1776.5" textLength="132" lengthAdjust="spacingAndGlyphs">CAMSHAFT POSITION</text>
<text class="ct" x="1127" y="1793.5" textLength="130" lengthAdjust="spacingAndGlyphs">ACTUATOR SOLENOID</text>
<text class="ct" x="1127" y="1808.5" textLength="110" lengthAdjust="spacingAndGlyphs">SOLENOID VALVE</text>
<text class="ct" x="1126" y="1823.5" textLength="128" lengthAdjust="spacingAndGlyphs">(FRONT OF ENGINE</text>
<text class="ct" x="1128" y="1840.5" textLength="77" lengthAdjust="spacingAndGlyphs">CYLINDER)</text>
</g>

<text class="ct" x="14" y="1852" textLength="100" lengthAdjust="spacingAndGlyphs">2carpros.com</text>
</svg>
</div>

</div></body></html>
